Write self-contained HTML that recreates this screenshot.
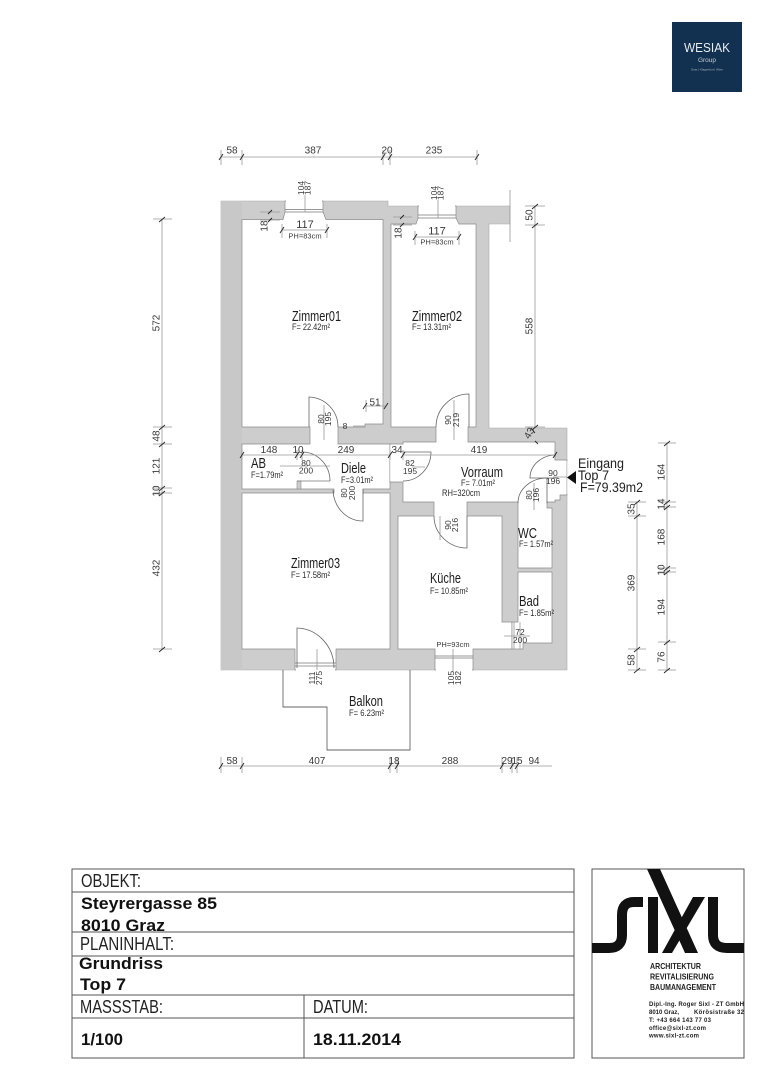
<!DOCTYPE html>
<html lang="de">
<head>
<meta charset="utf-8">
<title>Grundriss Top 7</title>
<style>
html,body{margin:0;padding:0;background:#fff;}
svg{display:block;width:763px;height:1080px;font-family:"Liberation Sans",Arial,sans-serif;}
.d{font-size:10px;text-anchor:middle;fill:#3a3a3a;}
.s{font-size:8.500px;text-anchor:middle;fill:#3a3a3a;}
.r{font-size:15px;fill:#1c1c1c;}
.f{font-size:9.500px;fill:#2c2c2c;}
.e{font-size:13.500px;fill:#222;}
.t{font-size:18px;fill:#222;}
.b{font-size:17px;font-weight:bold;fill:#111;}
.l{fill:none;stroke:#999;stroke-width:.8;}
.k{fill:none;stroke:#222;stroke-width:.9;}
.w{fill:none;stroke:#777;stroke-width:.8;}
</style>
</head>
<body>
<svg xmlns="http://www.w3.org/2000/svg" width="763" height="1080" viewBox="0 0 763 1080">
<rect width="763" height="1080" fill="#fff"/>

<!-- Wesiak logo -->
<rect x="672" y="22" width="70" height="70" fill="#12304f"/>
<text x="684" y="52" font-size="13" fill="#e8edf2" textLength="46" lengthAdjust="spacingAndGlyphs">WESIAK</text>
<text x="707" y="62" font-size="6.500" fill="#c4ced8" text-anchor="middle">Group</text>
<text x="707" y="70.500" font-size="3" fill="#aab6c2" text-anchor="middle">Graz | Klagenfurt | Wien</text>

<!-- Walls -->
<polygon points="221,201 388,201 388,206 510,206 510,224 489,224 489,428 567,428 567,670 221,670" fill="#cdcdcd" stroke="#aaa" stroke-width=".6"/>
<rect x="221" y="201" width="21" height="469" fill="#c8c8c8"/>

<!-- Rooms -->
<g fill="#fff" stroke="#8a8a8a" stroke-width=".7">
<polygon points="242,219.500 283,219.500 285,212 285,201 323,201 323,212 326,219.500 383,219.500 383,424 365,424 365,427 338,427 338,444 390,444 390,489 363,489 363,493 390,493 390,649 336,649 336,670 295,670 295,649 242,649 242,493 334,493 334,489 242,489 242,444 310,444 310,427 242,427"/>
<polygon points="391,224 416,224 418,218 418,206 456,206 456,218 459,224 476,224 476,427 468,427 468,442 555,442 555,460 558,460 558,460 567,460 567,495 560,495 560,500 555,500 555,502 547,502 547,508 552,508 552,568 518,568 518,502 467,502 467,516 502,516 502,622 512,622 512,649 473,649 473,670 435,670 435,649 398,649 398,516 434,516 434,502 403,502 403,482 390,482 390,444 403,444 403,442 436,442 436,427 391,427"/>
<polygon points="518,572 552,572 552,643 523,643 523,649 512,649 512,622 518,622"/>
</g>
<!-- cover strokes across openings -->
<g stroke="#fff" stroke-width="1.600" fill="none">
<path d="M311,427H337M311,444H337M335,489H362M335,493H362M391,445V481M437,442H467M435,502H466M519,502H546M286,201H322M419,206H455M436,649H472M436,670H472M296,649H335M296,670H335M568,461V494"/>
</g>
<rect x="297" y="481" width="4" height="8" fill="#cdcdcd" stroke="#8a8a8a" stroke-width=".6"/>
<path d="M297,481H330" class="w"/>

<!-- Window details -->
<path class="w" d="M285,209.500H323M285,212H323M418,215H456M418,218H456M435,656H473M435,658H473M295,663H336M295,666H336"/>

<!-- Door arcs -->
<g fill="none" stroke="#666" stroke-width=".8">
<path d="M309,427V397A30,30 0 0 1 338,427"/>
<path d="M469,427V394A33,33 0 0 0 436,427"/>
<path d="M302,452A28,29 0 0 1 330,481"/>
<path d="M363,489V521A30,32 0 0 1 333,490"/>
<path d="M403,452H431A28,29 0 0 1 403,481"/>
<path d="M467,516V548A33,32 0 0 1 434,516"/>
<path d="M556,455A26,23 0 0 0 530,478H558"/>
<path d="M518,503A29,25 0 0 1 547,478V503"/>
<path d="M297,668V628A38,40 0 0 1 334,668"/>
</g>

<!-- Balcony -->
<polyline points="283,670 283,707 327,707 327,750 410,750 410,670" fill="none" stroke="#666" stroke-width=".9"/>

<!-- Dimension lines -->
<path class="l" d="M221,157H477M221,150V165M242,150V165M383,150V165M390,150V165M477,150V165"/>
<path class="l" d="M221,766H552M221,757V773M242,757V773M390,757V773M397,757V773M502,757V773M512,757V773M517,757V773"/>
<path class="l" d="M162,219V649M153,219H172M153,427H172M153,444H172M153,488H172M153,493H172M153,649H172"/>
<path class="l" d="M667,443V670M658,443H676M658,502H676M658,507H676M658,568H676M658,572H676M658,642H676M658,670H676"/>
<path class="l" d="M637,502V670M628,502H646M628,516H646M628,649H646M628,670H646"/>
<path class="l" d="M535,206V427M525,206H545M525,225H545M525,427H545"/>
<path class="l" d="M510,190V242"/>
<path class="l" d="M242,455H390M403,455H555M242,450V460M297,450V460M302,450V460M390,450V460M403,450V460M555,450V460"/>
<path class="l" d="M282,230H327M282,224V238M327,224V238M415,237H459M415,231V245M459,231V245"/>
<path class="l" d="M305,195V212M438,200V218M260,212H280M260,220H280M393,217H412M393,225H412"/>
<path class="l" d="M365,406H385M366,400V412M324,405V440M454,400V440M534,483V510M440,516V540M308,466H280M310,466H330M412,467H425M553,477H567M516,636H530M504,636H516M514,622V649M520,622V649M317,649V670M453,649V672M365,426H353"/>

<!-- Ticks -->
<path class="k" d="M219,160l4,-6M240,160l4,-6M381,160l4,-6M388,160l4,-6M475,160l4,-6
M219,769l4,-6M240,769l4,-6M388,769l4,-6M395,769l4,-6M500,769l4,-6M510,769l4,-6M515,769l4,-6
M159,222l6,-5M159,430l6,-5M159,447l6,-5M159,491l6,-5M159,496l6,-5M159,652l6,-5
M664,446l6,-5M664,505l6,-5M664,510l6,-5M664,571l6,-5M664,575l6,-5M664,645l6,-5M664,673l6,-5
M634,505l6,-5M634,519l6,-5M634,652l6,-5M634,673l6,-5
M532,209l6,-5M532,228l6,-5M532,430l6,-5M531,428l4,5M535,441l3,3
M240,458l4,-6M295,458l4,-6M300,458l4,-6M388,458l4,-6M401,458l4,-6M553,458l4,-6
M280,233l4,-6M325,233l4,-6M413,240l4,-6M457,240l4,-6M268,214l4,-4M268,222l4,-4M400,219l4,-4M400,227l4,-4
M363,409l4,-6M384,409l4,-6"/>

<!-- Dimension labels -->
<g class="d">
<text x="232" y="153.500">58</text><text x="313" y="153.500">387</text><text x="387" y="153.500">20</text><text x="434" y="153.500">235</text>
<text x="232" y="764">58</text><text x="317" y="764">407</text><text x="394" y="764">18</text><text x="450" y="764">288</text><text x="507" y="764">29</text><text x="517" y="764">15</text><text x="534" y="764">94</text>
<text x="269" y="453">148</text><text x="298" y="453">10</text><text x="346" y="453">249</text><text x="397" y="453">34</text><text x="479" y="453">419</text>
<text x="305" y="228" font-size="11">117</text><text x="437" y="234.500" font-size="11">117</text>
<text x="375" y="405.500">51</text>
<text transform="translate(156,323) rotate(-90)" y="3.500">572</text>
<text transform="translate(156,436) rotate(-90)" y="3.500">48</text>
<text transform="translate(156,466) rotate(-90)" y="3.500">121</text>
<text transform="translate(156,491) rotate(-90)" y="3.500">10</text>
<text transform="translate(156,568) rotate(-90)" y="3.500">432</text>
<text transform="translate(529,326) rotate(-90)" y="3.500">558</text>
<text transform="translate(529,215) rotate(-90)" y="3.500">50</text>
<text transform="translate(529,433) rotate(-60)" y="3.500">43</text>
<text transform="translate(264,226) rotate(-90)" y="3.500">18</text>
<text transform="translate(398,233) rotate(-90)" y="3.500">18</text>
<text transform="translate(661,472) rotate(-90)" y="3.500">164</text>
<text transform="translate(661,504) rotate(-90)" y="3.500">14</text>
<text transform="translate(661,537) rotate(-90)" y="3.500">168</text>
<text transform="translate(661,570) rotate(-90)" y="3.500">10</text>
<text transform="translate(661,607) rotate(-90)" y="3.500">194</text>
<text transform="translate(661,657) rotate(-90)" y="3.500">76</text>
<text transform="translate(631,509) rotate(-90)" y="3.500">35</text>
<text transform="translate(631,583) rotate(-90)" y="3.500">369</text>
<text transform="translate(631,660) rotate(-90)" y="3.500">58</text>
</g>
<g class="s">
<text x="305" y="238.500" font-size="7.500">PH=83cm</text><text x="437" y="244.500" font-size="7.500">PH=83cm</text>
<text x="453" y="647" font-size="7.500">PH=93cm</text>
<text x="306" y="466">80</text><text x="306" y="473.500">200</text>
<text x="410" y="466">82</text><text x="410" y="474">195</text>
<text x="553" y="476">90</text><text x="553" y="484">196</text>
<text x="520" y="635">72</text><text x="520" y="643">200</text>
<text x="345" y="429">8</text>
<text transform="translate(301,188) rotate(-90)" y="3">104</text><text transform="translate(307.500,188) rotate(-90)" y="3">187</text>
<text transform="translate(434,193) rotate(-90)" y="3">104</text><text transform="translate(440.500,193) rotate(-90)" y="3">187</text>
<text transform="translate(321,419) rotate(-90)" y="3">80</text><text transform="translate(328,419) rotate(-90)" y="3">195</text>
<text transform="translate(448,420) rotate(-90)" y="3">90</text><text transform="translate(456,420) rotate(-90)" y="3">219</text>
<text transform="translate(344,493) rotate(-90)" y="3">80</text><text transform="translate(352,493) rotate(-90)" y="3">200</text>
<text transform="translate(448,525) rotate(-90)" y="3">90</text><text transform="translate(455,525) rotate(-90)" y="3">216</text>
<text transform="translate(529,495) rotate(-90)" y="3">80</text><text transform="translate(536,495) rotate(-90)" y="3">196</text>
<text transform="translate(312,678) rotate(-90)" y="3">111</text><text transform="translate(319,678) rotate(-90)" y="3">275</text>
<text transform="translate(451,678) rotate(-90)" y="3">105</text><text transform="translate(458,678) rotate(-90)" y="3">182</text>
</g>

<!-- Room labels -->
<text class="r" x="292" y="321" textLength="49" lengthAdjust="spacingAndGlyphs">Zimmer01</text>
<text class="f" x="292" y="330" textLength="38" lengthAdjust="spacingAndGlyphs">F= 22.42m²</text>
<text class="r" x="412" y="321" textLength="50" lengthAdjust="spacingAndGlyphs">Zimmer02</text>
<text class="f" x="412" y="330" textLength="39" lengthAdjust="spacingAndGlyphs">F= 13.31m²</text>
<text class="r" x="251" y="468" textLength="15" lengthAdjust="spacingAndGlyphs">AB</text>
<text class="f" x="251" y="478" textLength="32" lengthAdjust="spacingAndGlyphs">F=1.79m²</text>
<text class="r" x="341" y="473" textLength="25" lengthAdjust="spacingAndGlyphs">Diele</text>
<text class="f" x="341" y="483" textLength="32" lengthAdjust="spacingAndGlyphs">F=3.01m²</text>
<text class="r" x="461" y="477" textLength="42" lengthAdjust="spacingAndGlyphs">Vorraum</text>
<text class="f" x="461" y="486" textLength="34" lengthAdjust="spacingAndGlyphs">F= 7.01m²</text>
<text class="f" x="442" y="496" textLength="38" lengthAdjust="spacingAndGlyphs">RH=320cm</text>
<text class="r" x="518" y="538" textLength="19" lengthAdjust="spacingAndGlyphs">WC</text>
<text class="f" x="519" y="547" textLength="34" lengthAdjust="spacingAndGlyphs">F= 1.57m²</text>
<text class="r" x="291" y="568" textLength="49" lengthAdjust="spacingAndGlyphs">Zimmer03</text>
<text class="f" x="291" y="578" textLength="39" lengthAdjust="spacingAndGlyphs">F= 17.58m²</text>
<text class="r" x="430" y="583" textLength="31" lengthAdjust="spacingAndGlyphs">Küche</text>
<text class="f" x="430" y="594" textLength="38" lengthAdjust="spacingAndGlyphs">F= 10.85m²</text>
<text class="r" x="519" y="606" textLength="20" lengthAdjust="spacingAndGlyphs">Bad</text>
<text class="f" x="519" y="616" textLength="35" lengthAdjust="spacingAndGlyphs">F= 1.85m²</text>
<text class="r" x="349" y="706" textLength="34" lengthAdjust="spacingAndGlyphs">Balkon</text>
<text class="f" x="349" y="716" textLength="35" lengthAdjust="spacingAndGlyphs">F= 6.23m²</text>

<!-- Entrance -->
<polygon points="567,477.500 576,471 576,484" fill="#111"/>
<text class="e" x="578" y="468" textLength="46" lengthAdjust="spacingAndGlyphs">Eingang</text>
<text class="e" x="578" y="480" textLength="31" lengthAdjust="spacingAndGlyphs">Top 7</text>
<text class="e" x="580" y="492" textLength="63" lengthAdjust="spacingAndGlyphs">F=79.39m2</text>

<!-- Title block -->
<g fill="none" stroke="#555" stroke-width="1">
<rect x="72" y="869" width="502" height="189"/>
<path d="M72,892H574M72,932H574M72,956H574M72,995H574M72,1018H574M304,995V1058"/>
</g>
<text class="t" x="81" y="887" textLength="60" lengthAdjust="spacingAndGlyphs">OBJEKT:</text>
<text class="b" x="81" y="909" textLength="136" lengthAdjust="spacingAndGlyphs">Steyrergasse 85</text>
<text class="b" x="81" y="931" textLength="84" lengthAdjust="spacingAndGlyphs">8010 Graz</text>
<text class="t" x="80" y="950" textLength="94" lengthAdjust="spacingAndGlyphs">PLANINHALT:</text>
<text class="b" x="79" y="969" textLength="84" lengthAdjust="spacingAndGlyphs">Grundriss</text>
<text class="b" x="80" y="990" textLength="46" lengthAdjust="spacingAndGlyphs">Top 7</text>
<text class="t" x="80" y="1013" textLength="83" lengthAdjust="spacingAndGlyphs">MASSSTAB:</text>
<text class="t" x="313" y="1013" textLength="55" lengthAdjust="spacingAndGlyphs">DATUM:</text>
<text class="b" x="81" y="1045" textLength="42" lengthAdjust="spacingAndGlyphs">1/100</text>
<text class="b" x="313" y="1045" textLength="88" lengthAdjust="spacingAndGlyphs">18.11.2014</text>

<!-- Sixl logo -->
<rect x="592" y="869" width="152" height="189" fill="none" stroke="#555" stroke-width="1"/>
<g fill="none" stroke="#111" stroke-width="10">
<path d="M643,902H634Q622,902 622,915V935Q622,948 609,948H592"/>
<path d="M713,897V935Q713,948 727,948H744"/>
</g>
<rect x="648" y="897" width="10" height="56" fill="#111"/>
<polygon points="647,869 660,869 698,953 685,953" fill="#111"/>
<polygon points="693,897 705,897 672,953 662,953" fill="#111"/>
<g font-weight="bold" fill="#222">
<text x="650" y="969" font-size="8.500" textLength="51" lengthAdjust="spacingAndGlyphs">ARCHITEKTUR</text>
<text x="650" y="979.500" font-size="8.500" textLength="64" lengthAdjust="spacingAndGlyphs">REVITALISIERUNG</text>
<text x="650" y="990" font-size="8.500" textLength="66" lengthAdjust="spacingAndGlyphs">BAUMANAGEMENT</text>
<text x="649" y="1006" font-size="6" textLength="95" lengthAdjust="spacing">Dipl.-Ing. Roger Sixl - ZT GmbH</text>
<text x="649" y="1014" font-size="6">8010 Graz,</text>
<text x="694" y="1014" font-size="6" textLength="50" lengthAdjust="spacing">Körösistraße 32</text>
<text x="649" y="1022" font-size="6" textLength="62" lengthAdjust="spacing">T: +43 664 143 77 03</text>
<text x="649" y="1030" font-size="6" textLength="57" lengthAdjust="spacing">office@sixl-zt.com</text>
<text x="649" y="1037.500" font-size="6" textLength="50" lengthAdjust="spacing">www.sixl-zt.com</text>
</g>
</svg>
</body>
</html>
